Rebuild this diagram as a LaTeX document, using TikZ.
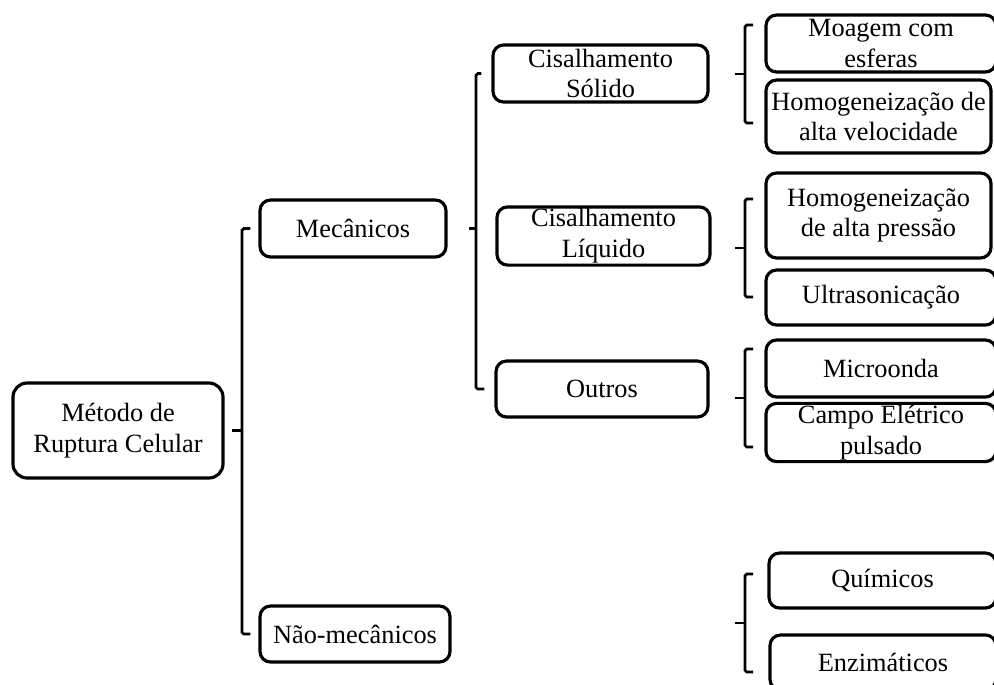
\documentclass[tikz,border=0pt]{standalone}
\usepackage{fontspec}
\setmainfont{Liberation Serif}
\usetikzlibrary{positioning}

\begin{document}
\begin{tikzpicture}[
        x=0.02cm, y=-0.02cm,
        box/.style={draw, line width=1.8pt, rounded corners=6pt, align=center,
                    inner sep=1pt, font=\fontsize{15}{17.5}\selectfont},
        sz/.style 2 args={minimum width=#1*0.02cm, minimum height=#2*0.02cm},
        brk/.style={line width=1.6pt, rounded corners=1pt}
    ]
    \path[use as bounding box] (0,0) rectangle (994,684);
    \clip (0,0) rectangle (994,684);

    % raiz e primeiro nivel
    \node[box, sz={210}{95}, rounded corners=8pt] (root) at (118,430.5) {Método de\\Ruptura Celular};
    \node[box, sz={186}{57}] (mec) at (353,228.5) {Mecânicos};
    \node[box, sz={190}{56}] (nmec) at (355,634) {Não-mecânicos};

    % segundo nivel
    \node[box, sz={215}{57}] (solido) at (600.5,73.5) {Cisalhamento\\Sólido};
    \node[box, sz={213}{56}] (liquido) at (603.5,236) {Cisalhamento\\Líquido};
    \node[box, sz={212}{56}] (outros) at (602,389) {Outros};

    % terceiro nivel
    \node[box, sz={230}{57}] (moagem) at (881,43.5) {Moagem com\\esferas};
    \node[box, sz={225}{73}] (homvel) at (878.5,116.5) {Homogeneização de\\alta velocidade};
    \node[box, sz={225}{85}] (hompres) at (878.5,215.5) {Homogeneização\\de alta pressão};
    \node[box, sz={230}{55}] (ultra) at (881,297.5) {Ultrasonicação};
    \node[box, sz={230}{57}] (micro) at (881,368.5) {Microonda};
    \node[box, sz={230}{55}] (campo) at (881,432.5) {Campo Elétrico\\pulsado};
    \node[box, sz={227}{55}] (quim) at (882.5,580.5) {Químicos};
    \node[box, sz={226}{55}] (enzim) at (883,662.5) {Enzimáticos};

    % chaves
    \coordinate (j0) at (242,430.5);
    \coordinate (j1) at (476,228.5);
    \draw[brk] (root.east) ++(7,0) -- (j0);
    \draw[brk] ([xshift=-0.16cm]mec.west) -- (j0 |- mec.west) -- (j0 |- nmec.west) -- ([xshift=-0.16cm]nmec.west);
    \draw[brk] (mec.east) ++(21,0) -- (j1);
    \draw[brk] ([xshift=-0.2cm]solido.west) -- (j1 |- solido.west) -- (j1 |- outros.west) -- ([xshift=-0.2cm]outros.west);

    \coordinate (j2) at (745,74);
    \coordinate (j3) at (745,248);
    \coordinate (j4) at (745,398);
    \coordinate (j5) at (745,623);
    \foreach \j in {j2, j3, j4, j5} {
        \draw[brk] (\j) ++(8,-49) -- ++(-8,0) -- ++(0,98) -- ++(8,0);
        \draw[brk] (\j) -- ++(-10,0);
    }
\end{tikzpicture}
\end{document}
